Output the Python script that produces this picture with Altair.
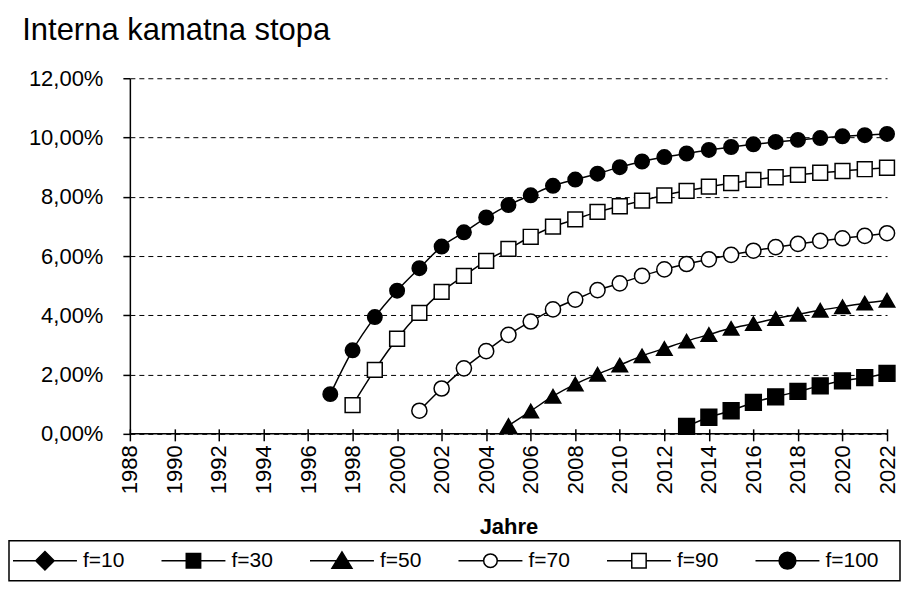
import altair as alt
import pandas as pd

FONT = "Liberation Sans"

series = ["f=10", "f=30", "f=50", "f=70", "f=90", "f=100"]

# first year of each visible series (f=10 stays below 0 % and is not visible)
start_f30 = 2013
start_f50 = 2005
start_f70 = 2001
start_f90 = 1998
start_f100 = 1997

f30 = [0.25, 0.56, 0.78, 1.06, 1.25, 1.43, 1.62, 1.79, 1.90, 2.04]
f50 = [0.28, 0.77, 1.27, 1.68, 2.01, 2.32, 2.63, 2.88, 3.13, 3.35, 3.56, 3.72, 3.89, 4.03, 4.17, 4.29, 4.41, 4.51]
f70 = [0.78, 1.53, 2.21, 2.79, 3.34, 3.79, 4.20, 4.53, 4.85, 5.08, 5.33, 5.55, 5.73, 5.89, 6.04, 6.18, 6.30, 6.41, 6.51, 6.60, 6.68, 6.77]
f90 = [0.97, 2.16, 3.21, 4.08, 4.79, 5.33, 5.84, 6.24, 6.65, 6.99, 7.24, 7.49, 7.68, 7.87, 8.05, 8.20, 8.34, 8.46, 8.57, 8.66, 8.74, 8.81, 8.87, 8.93, 8.98]
f100 = [1.34, 2.82, 3.94, 4.83, 5.59, 6.32, 6.80, 7.30, 7.72, 8.05, 8.37, 8.58, 8.78, 9.00, 9.19, 9.34, 9.46, 9.58, 9.68, 9.77, 9.85, 9.92, 9.98, 10.04, 10.08, 10.12]

x_ticks = list(range(1988, 2023))
y_ticks = [0, 2, 4, 6, 8, 10, 12]

rows = []
for name, start, vals in [("f=30", start_f30, f30), ("f=50", start_f50, f50),
                          ("f=70", start_f70, f70), ("f=90", start_f90, f90),
                          ("f=100", start_f100, f100)]:
    for i, v in enumerate(vals):
        rows.append({"series": name, "year": start + i, "value": v})
df = pd.DataFrame(rows)
legend_df = pd.DataFrame({"series": series, "idx": list(range(len(series)))})

mark_shapes = ["diamond", "square", "triangle-up", "circle", "square", "circle"]
mark_fills = ["black", "black", "black", "white", "white", "black"]
mark_sizes = [260, 210, 360, 220, 210, 260]

# legend glyphs: line + marker (units of half the symbol size)
legend_paths = [
    "M-4,0H4M0,-1.15L1.15,0L0,1.15L-1.15,0Z",
    "M-4,0H4M-0.9,-0.9H0.9V0.9H-0.9Z",
    "M-4,0H4M0,-1.1L1.25,0.95L-1.25,0.95Z",
    "M-4,0H-0.85M0.85,0H4M0.85,0A0.85,0.85,0,1,1,-0.85,0A0.85,0.85,0,1,1,0.85,0Z",
    "M-4,0H-0.9M0.9,0H4M-0.9,-0.9H0.9V0.9H-0.9Z",
    "M-4,0H4M1.05,0A1.05,1.05,0,1,1,-1.05,0A1.05,1.05,0,1,1,1.05,0Z",
]

W, H = 758, 356

x_scale = alt.Scale(domain=[1988, 2022], nice=False, zero=False)
y_scale = alt.Scale(domain=[0, 12], nice=False, zero=False)

x_axis = alt.Axis(
    values=x_ticks, format="d",
    labelExpr="datum.value % 2 == 0 ? datum.label : ''",
    labelAngle=-90, labelAlign="right", labelBaseline="middle",
    labelOverlap=False, labelFlush=False,
    grid=False, domain=False, offset=-5,
    tickSize=12, tickColor="black", tickWidth=1.5,
    labelFont=FONT, labelFontSize=22, labelColor="black", labelPadding=4,
    title="Jahre", titleFont=FONT, titleFontSize=22, titleFontWeight="bold",
    titleColor="black", titlePadding=23,
)
y_axis = alt.Axis(
    values=y_ticks,
    labelExpr="replace(format(datum.value, '.2f'), '.', ',') + '%'",
    title=None, grid=True, gridDash=[5, 4], gridColor="black", gridWidth=1, gridOpacity=1,
    domainColor="black", domainWidth=1.5, tickColor="black", tickSize=7, tickWidth=1.5,
    labelFont=FONT, labelFontSize=22, labelColor="black", labelPadding=20,
)

lines = alt.Chart(df).mark_line(color="black", strokeWidth=1.5, interpolate="monotone").encode(
    x=alt.X("year:Q", scale=x_scale, axis=x_axis),
    y=alt.Y("value:Q", scale=y_scale, axis=y_axis),
    detail="series:N",
)

baseline = alt.Chart(legend_df).transform_filter("datum.idx == 0").mark_rule(
    color="black", strokeWidth=1.5
).encode(y=alt.datum(0))

points = alt.Chart(df).mark_point(filled=True, stroke="black", strokeWidth=1.5, opacity=1).encode(
    x="year:Q",
    y="value:Q",
    shape=alt.Shape("series:N", scale=alt.Scale(domain=series, range=mark_shapes), legend=None),
    fill=alt.Fill("series:N", scale=alt.Scale(domain=series, range=mark_fills), legend=None),
    size=alt.Size("series:N", scale=alt.Scale(domain=series, range=mark_sizes), legend=None),
)

main = alt.layer(lines, baseline, points)

# legend box below the plot, laid out by its own scales
leg_xs = alt.Scale(domain=[0, 6], range=[-121, 771], nice=False, zero=False)
leg_ys = alt.Scale(domain=[0, 1], range=[463, 503], nice=False, zero=False)

frame = alt.Chart(legend_df).transform_filter("datum.idx == 0").mark_rect(
    fill="white", stroke="black", strokeWidth=1.5
).encode(
    x=alt.X(datum=0, scale=leg_xs, axis=None),
    x2=alt.X2(datum=6),
    y=alt.Y(datum=0, scale=leg_ys, axis=None),
    y2=alt.Y2(datum=1),
)
glyphs = alt.Chart(legend_df).mark_point(
    filled=True, stroke="black", strokeWidth=1.5, size=256, opacity=1, xOffset=36
).encode(
    x=alt.X("idx:Q", scale=leg_xs, axis=None),
    y=alt.Y(datum=0.5, scale=leg_ys, axis=None),
    shape=alt.Shape("series:N", scale=alt.Scale(domain=series, range=legend_paths), legend=None),
    fill=alt.Fill("series:N", scale=alt.Scale(domain=series, range=mark_fills), legend=None),
)
labels = alt.Chart(legend_df).mark_text(
    align="left", baseline="middle", dx=74, font=FONT, fontSize=21, color="black"
).encode(
    x=alt.X("idx:Q", scale=leg_xs, axis=None),
    y=alt.Y(datum=0.5, scale=leg_ys, axis=None),
    text="series:N",
)

legend_block = alt.layer(frame, glyphs, labels)

chart = alt.layer(main, legend_block).resolve_scale(
    x="independent", y="independent",
    shape="independent", fill="independent", size="independent",
).properties(
    width=W, height=H,
    padding={"top": 7, "left": 0, "right": 0, "bottom": 0},
    title=alt.TitleParams("Interna kamatna stopa", anchor="start", frame="bounds",
                          font=FONT, fontSize=31, fontWeight="normal", color="black",
                          dx=14, offset=20),
).configure_view(strokeWidth=0)

chart.save("out.html", embed_options={"renderer": "svg", "actions": False})
